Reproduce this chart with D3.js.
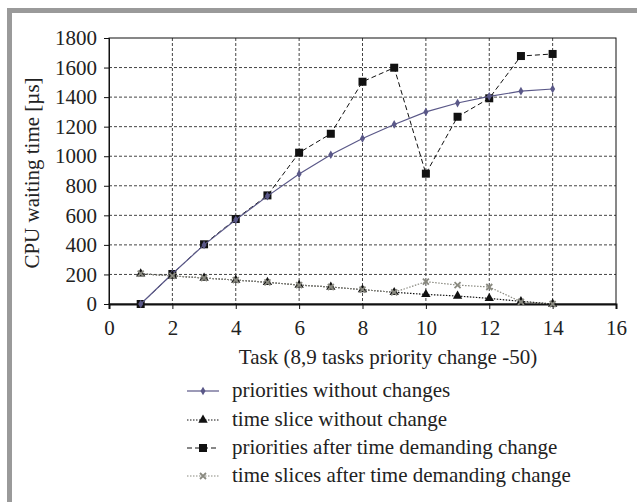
<!DOCTYPE html>
<html><head><meta charset="utf-8">
<script src="https://cdn.jsdelivr.net/npm/d3@7"></script>
<style>body{margin:0;background:#fff}svg{display:block}</style>
</head><body><svg id="c" width="637" height="502" style="font-family:'Liberation Serif'"></svg>
<script>
const tasks = [1,2,3,4,5,6,7,8,9,10,11,12,13,14];
const prioritiesNoChange = [0,205,400,570,730,880,1010,1120,1215,1300,1360,1405,1440,1455];
const sliceNoChange = [205,190,176,162,147,128,115,97,79,65,54,38,18,0];
const prioritiesChange = [0,203,404,575,735,1024,1152,1504,1599,882,1267,1392,1678,1692];
const slicesChange = [205,190,176,162,147,128,115,97,79,151,128,115,15,0];
const xTicks = [0,2,4,6,8,10,12,14,16];
const yTicks = [0,200,400,600,800,1000,1200,1400,1600,1800];
const legendLabels = ["priorities without changes","time slice without change","priorities after time demanding change","time slices after time demanding change"];

const FONT = "'Liberation Serif'";
const svg = d3.select("#c");
svg.append("rect").attr("x",7).attr("y",8).attr("width",630).attr("height",5).attr("fill","#9a9a9a");
svg.append("rect").attr("x",7).attr("y",8).attr("width",5).attr("height",494).attr("fill","#9a9a9a");

const L=109,R=616,T=38,B=304;
const x = d3.scaleLinear().domain([0,16]).range([L,R]);
const y = d3.scaleLinear().domain([0,1800]).range([B,T]);

const g = svg.append("g");
g.selectAll(".vg").data(xTicks.filter(d=>d>0&&d<16)).enter().append("line")
 .attr("x1",d=>x(d)).attr("x2",d=>x(d)).attr("y1",T).attr("y2",B)
 .attr("stroke","#444").attr("stroke-width",1).attr("stroke-dasharray","3,2");
g.selectAll(".hg").data(yTicks.filter(d=>d>0&&d<1800)).enter().append("line")
 .attr("x1",L).attr("x2",R).attr("y1",d=>y(d)).attr("y2",d=>y(d))
 .attr("stroke","#444").attr("stroke-width",1).attr("stroke-dasharray","3,2");
svg.append("rect").attr("x",L).attr("y",T).attr("width",R-L).attr("height",B-T).attr("fill","none").attr("stroke","#111").attr("stroke-width",1);

const xa = svg.append("g").attr("transform",`translate(0,${B})`)
 .call(d3.axisBottom(x).tickValues(xTicks).tickSize(5).tickPadding(11).tickFormat(d3.format("d")));
const ya = svg.append("g").attr("transform",`translate(${L},0)`)
 .call(d3.axisLeft(y).tickValues(yTicks).tickSize(5).tickPadding(7).tickFormat(d3.format("d")));
[xa,ya].forEach(a=>{a.attr("font-family",null).attr("font-size",null);
 a.selectAll("text").attr("font-family",FONT).attr("font-size","21px").attr("fill","#222");
 a.selectAll("line").attr("stroke","#111");a.select(".domain").attr("stroke","#111");});
xa.select(".domain").attr("stroke-width",2);

svg.append("text").attr("x",388).attr("y",364).attr("text-anchor","middle").attr("font-family",FONT).attr("font-size","21px").attr("fill","#222").text("Task (8,9 tasks priority change -50)");
svg.append("text").attr("transform","translate(39,173) rotate(-90)").attr("text-anchor","middle").attr("font-family",FONT).attr("font-size","21px").attr("fill","#222").text("CPU waiting time [µs]");

const line = d3.line().x((d,i)=>x(tasks[i])).y(d=>y(d));
const series = [
 {v:prioritiesNoChange,color:"#5a5888",dash:null,w:1.2,m:"diamond"},
 {v:sliceNoChange,color:"#111",dash:"1.5,1.5",w:1.2,m:"triangle"},
 {v:prioritiesChange,color:"#111",dash:"5,3",w:1,m:"square"},
 {v:slicesChange,color:"#8a8a80",dash:"1.5,1.5",w:1.2,m:"x"}
];
function marker(sel,type,color){
 if(type==="diamond") sel.append("path").attr("d",d3.symbol(d3.symbolDiamond,22)()).attr("fill",color);
 else if(type==="triangle") sel.append("path").attr("d",d3.symbol(d3.symbolTriangle,38)()).attr("fill","#111");
 else if(type==="square") sel.append("rect").attr("x",-4).attr("y",-4).attr("width",8).attr("height",8).attr("fill","#111");
 else sel.append("path").attr("d","M-3,-3L3,3M-3,3L3,-3").attr("stroke",color).attr("stroke-width",1.8).attr("fill","none");
}
const order=[2,0,1,3];
order.forEach(k=>{
 const s=series[k];
 svg.append("path").datum(s.v).attr("d",line).attr("fill","none").attr("stroke",s.color).attr("stroke-width",s.w).attr("stroke-dasharray",s.dash);
 s.v.forEach((d,i)=>{const m=svg.append("g").attr("transform",`translate(${x(tasks[i])},${y(d)})`);marker(m,s.m,s.color);});
});

const ly=[391,420,448,476];
series.forEach((s,i)=>{
 svg.append("line").attr("x1",187).attr("x2",219).attr("y1",ly[i]).attr("y2",ly[i]).attr("stroke",s.color).attr("stroke-width",s.w).attr("stroke-dasharray",s.dash);
 const m=svg.append("g").attr("transform",`translate(203,${ly[i]})`);marker(m,s.m,s.color);
 svg.append("text").attr("x",232).attr("y",ly[i]+6).attr("font-family",FONT).attr("font-size","21px").attr("fill","#222").text(legendLabels[i]);
});
</script></body></html>
